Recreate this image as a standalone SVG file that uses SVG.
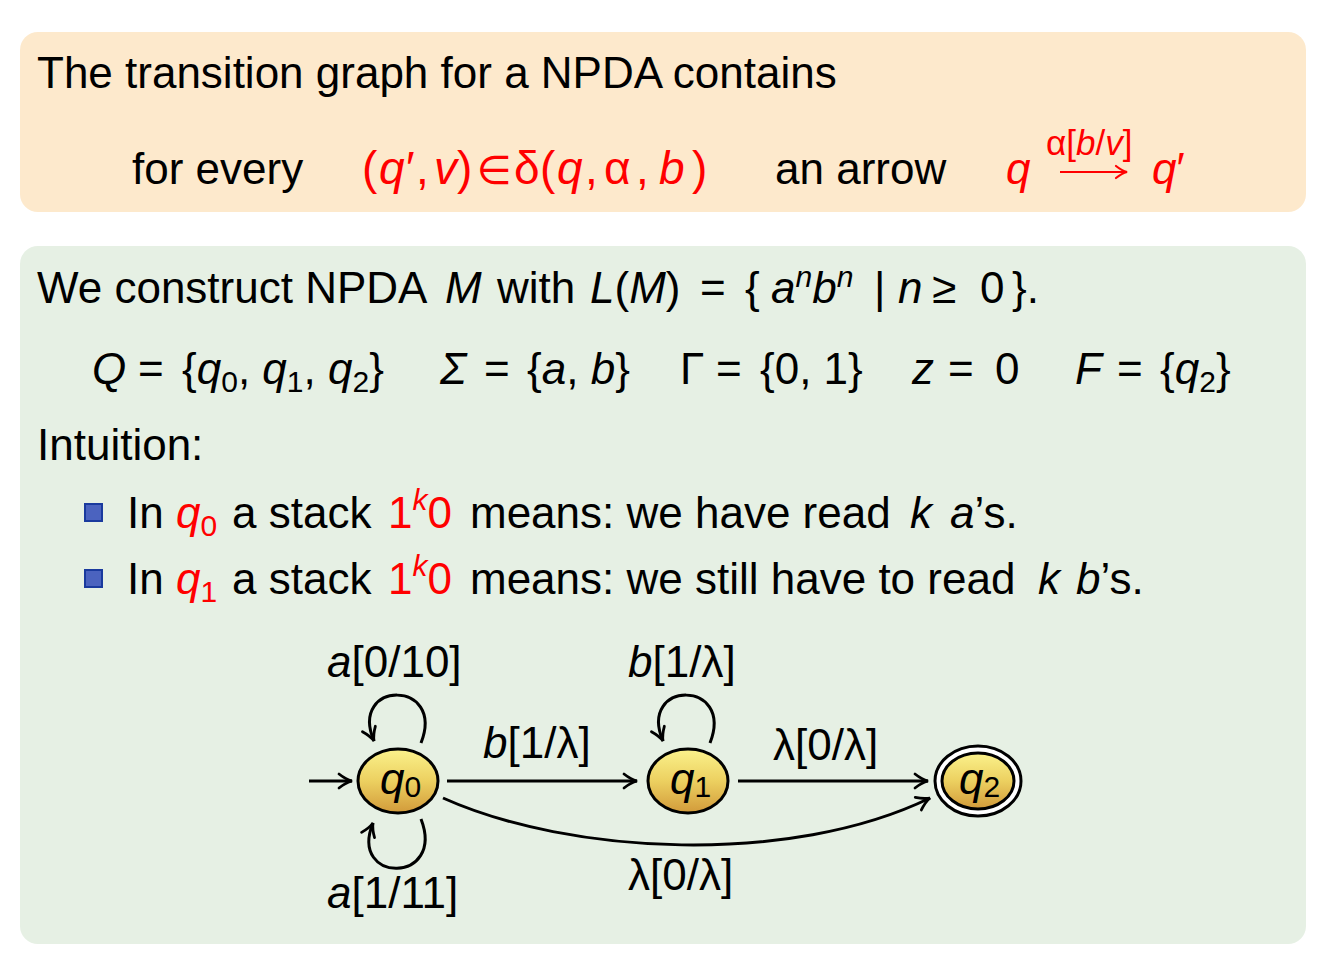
<svg xmlns="http://www.w3.org/2000/svg" width="1334" height="964" viewBox="0 0 1334 964">
<defs>
<style>
.t{font-family:"Liberation Sans","DejaVu Sans",sans-serif;font-size:44px;fill:#000}
.i{font-style:italic}
.r{fill:#ff0000}
.s{font-size:30px}
.edge{fill:none;stroke:#000;stroke-width:3}
.node{stroke:#000;stroke-width:3;fill:url(#ng)}
</style>
<linearGradient id="ng" x1="0" y1="0" x2="0" y2="1">
<stop offset="0" stop-color="#fbf28c"/>
<stop offset="0.5" stop-color="#ecd060"/>
<stop offset="1" stop-color="#d29a3a"/>
</linearGradient>
<marker id="ah" viewBox="-16 -9 18 18" refX="0" refY="0" markerWidth="18" markerHeight="18" markerUnits="userSpaceOnUse" orient="auto">
<path d="M-13,-7 Q-6,-1.5 0,0 Q-6,1.5 -13,7" fill="none" stroke="#000" stroke-width="2.8" stroke-linecap="round"/>
</marker>
<marker id="ahr" viewBox="-16 -9 18 18" refX="0" refY="0" markerWidth="18" markerHeight="18" markerUnits="userSpaceOnUse" orient="auto">
<path d="M-11,-6 Q-5,-1.2 0,0 Q-5,1.2 -11,6" fill="none" stroke="#ff0000" stroke-width="2.2" stroke-linecap="round"/>
</marker>
</defs>
<rect width="1334" height="964" fill="#fff"/>
<g id="topbox">
<rect x="20" y="32" width="1286" height="180" rx="18" fill="#fde9cc"/>
<text class="t" x="37" y="88">The transition graph for a NPDA contains</text>
<text class="t" x="132" y="184">for every</text>
<text class="t r" y="184" style="font-size:46px"><tspan x="362">(</tspan><tspan class="i" x="379">q</tspan><tspan x="406">′</tspan><tspan x="416">,</tspan><tspan class="i" x="434">v</tspan><tspan x="457">)</tspan><tspan x="477" style="font-size:40px">∈</tspan><tspan x="514">δ</tspan><tspan x="540">(</tspan><tspan class="i" x="557">q</tspan><tspan x="585">,</tspan><tspan x="604">α</tspan><tspan x="636">,</tspan><tspan class="i" x="659">b</tspan><tspan x="692">)</tspan></text>
<text class="t" x="775" y="184">an arrow</text>
<text class="t r i" x="1006" y="184">q</text>
<text class="t r" x="1046" y="155" style="font-size:35px">α[<tspan class="i">b</tspan>/<tspan class="i">v</tspan>]</text>
<line x1="1060" y1="172" x2="1127" y2="172" stroke="#ff0000" stroke-width="2.2" marker-end="url(#ahr)"/>
<text class="t r" x="1152" y="184"><tspan class="i">q</tspan>′</text>
</g>
<g id="mainbox">
<rect x="20" y="246" width="1286" height="698" rx="18" fill="#e6f0e4"/>
<text class="t" x="37" y="303">We construct NPDA <tspan class="i" x="445">M</tspan><tspan x="497">with</tspan> <tspan class="i" x="590">L</tspan>(<tspan class="i">M</tspan>)<tspan x="700">=</tspan><tspan x="745">{</tspan><tspan class="i" x="771">a</tspan><tspan class="i s" dy="-16">n</tspan><tspan class="i" dy="16">b</tspan><tspan class="i s" dy="-16">n</tspan><tspan x="874" dy="16">|</tspan><tspan class="i" x="898">n</tspan><tspan x="932">≥</tspan><tspan x="980">0</tspan><tspan x="1012">}.</tspan></text>
<text class="t" y="384"><tspan class="i" x="92">Q</tspan><tspan x="138">=</tspan><tspan x="182">{</tspan><tspan class="i">q</tspan><tspan class="s" dy="8">0</tspan><tspan dy="-8">, </tspan><tspan class="i">q</tspan><tspan class="s" dy="8">1</tspan><tspan dy="-8">, </tspan><tspan class="i">q</tspan><tspan class="s" dy="8">2</tspan><tspan dy="-8">}</tspan><tspan class="i" x="440">Σ</tspan><tspan x="484">=</tspan><tspan x="527">{</tspan><tspan class="i">a</tspan>, <tspan class="i">b</tspan>}<tspan x="680">Γ</tspan><tspan x="716">=</tspan><tspan x="760">{0, 1}</tspan><tspan class="i" x="912">z</tspan><tspan x="948">=</tspan><tspan x="995">0</tspan><tspan class="i" x="1075">F</tspan><tspan x="1117">=</tspan><tspan x="1160">{</tspan><tspan class="i">q</tspan><tspan class="s" dy="8">2</tspan><tspan dy="-8">}</tspan></text>
<text class="t" x="37" y="460">Intuition:</text>
</g>
<g id="bullet1">
<rect x="85" y="504" width="17" height="17" fill="#4b63bf" stroke="#1a3a9e" stroke-width="2"/>
<text class="t" x="127" y="528">In <tspan class="i r" x="176">q</tspan><tspan class="r s" dy="8">0</tspan><tspan dy="-8" x="232">a stack </tspan><tspan class="r" x="388">1</tspan><tspan class="r i s" dy="-18">k</tspan><tspan class="r" dy="18">0</tspan><tspan x="470">means: we have read </tspan><tspan class="i" x="910">k</tspan><tspan class="i" x="950">a</tspan>’s.</text>
</g>
<g id="bullet2">
<rect x="85" y="570" width="17" height="17" fill="#4b63bf" stroke="#1a3a9e" stroke-width="2"/>
<text class="t" x="127" y="594">In <tspan class="i r" x="176">q</tspan><tspan class="r s" dy="8">1</tspan><tspan dy="-8" x="232">a stack </tspan><tspan class="r" x="388">1</tspan><tspan class="r i s" dy="-18">k</tspan><tspan class="r" dy="18">0</tspan><tspan x="470">means: we still have to read </tspan><tspan class="i" x="1038">k</tspan><tspan class="i" x="1076">b</tspan>’s.</text>
</g>
<g id="connectors">
<line class="edge" x1="309" y1="781" x2="352" y2="781" marker-end="url(#ah)"/>
<line class="edge" x1="447" y1="781" x2="637" y2="781" marker-end="url(#ah)"/>
<line class="edge" x1="738" y1="781" x2="928" y2="781" marker-end="url(#ah)"/>
<path class="edge" d="M443,798 C570,855 790,866 930,798" marker-end="url(#ah)"/>
<path class="edge" d="M421,743 C446,679 348,680 374,741" marker-end="url(#ah)"/>
<path class="edge" d="M421,819 C446,884 348,884 373,823" marker-end="url(#ah)"/>
<path class="edge" d="M710,743 C735,679 637,680 663,741" marker-end="url(#ah)"/>
<text class="t" x="327" y="677"><tspan class="i">a</tspan>[0/10]</text>
<text class="t" x="327" y="908"><tspan class="i">a</tspan>[1/11]</text>
<text class="t" x="483" y="758"><tspan class="i">b</tspan>[1/λ]</text>
<text class="t" x="628" y="677"><tspan class="i">b</tspan>[1/λ]</text>
<text class="t" x="773" y="760">λ[0/λ]</text>
<text class="t" x="628" y="890">λ[0/λ]</text>
</g>
<g id="q0">
<ellipse class="node" cx="398" cy="781" rx="40" ry="32"/>
<text class="t" x="380" y="794"><tspan class="i">q</tspan><tspan class="s" dy="3">0</tspan></text>
</g>
<g id="q1">
<ellipse class="node" cx="688" cy="781" rx="40" ry="32"/>
<text class="t" x="670" y="794"><tspan class="i">q</tspan><tspan class="s" dy="3">1</tspan></text>
</g>
<g id="q2">
<ellipse cx="978" cy="781" rx="43" ry="35" fill="#fff" stroke="#000" stroke-width="3"/>
<ellipse class="node" cx="978" cy="781" rx="36" ry="28"/>
<text class="t" x="959" y="794"><tspan class="i">q</tspan><tspan class="s" dy="3">2</tspan></text>
</g>
</svg>
